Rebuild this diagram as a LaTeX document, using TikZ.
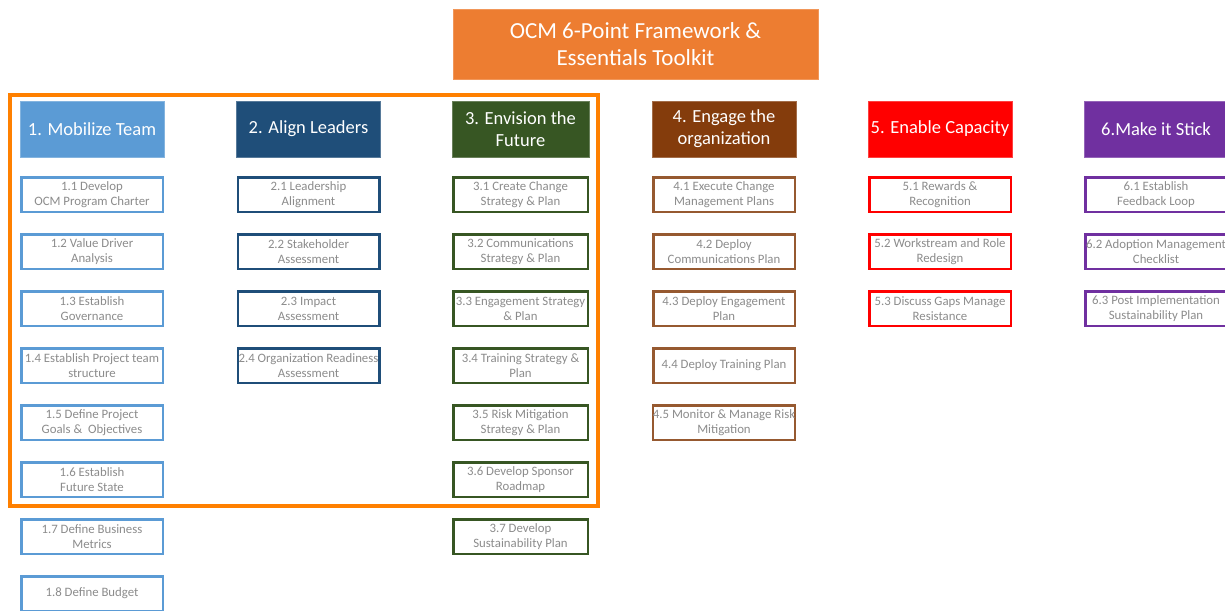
\documentclass[tikz,border=0pt]{standalone}
\usepackage{fontspec}
\setmainfont{Carlito}
\definecolor{titlecolor}{HTML}{ED7D31}
\definecolor{framecolor}{HTML}{FF8000}
\definecolor{mobilizecolor}{HTML}{5B9BD5}
\definecolor{aligncolor}{HTML}{1F4E79}
\definecolor{envisioncolor}{HTML}{375623}
\definecolor{engagecolor}{HTML}{843C0C}
\definecolor{enablecolor}{HTML}{FF0000}
\definecolor{stickcolor}{HTML}{7030A0}
\definecolor{tasktext}{HTML}{8C8C8C}

\begin{document}
\begin{tikzpicture}[x=1pt, y=-1pt,
    phase/.style={draw=#1!75!white, line width=0.6pt, fill=#1, text=white, minimum width=144pt, minimum height=56pt, inner sep=0pt, align=center, font=\fontsize{18.5}{22}\selectfont},
    task/.style={draw=#1, line width=2.5pt, fill=white, text=tasktext, minimum width=141.5pt, minimum height=34.5pt, inner sep=0pt, align=center, font=\fontsize{12.8}{15}\selectfont}]
    \path[use as bounding box] (0,0) rectangle (1225,610);
    \clip (0,0) rectangle (1225,610);

    % title
    \node[fill=titlecolor, draw=titlecolor!80!white, text=white, minimum width=365pt, minimum height=70pt, inner sep=0pt, align=center, font=\fontsize{23}{27}\selectfont] (title) at (635.5,44) {OCM 6-Point Framework \&\\Essentials Toolkit};

    % phase headers
    \node[phase=mobilizecolor] (h1) at (92,129) {1. Mobilize Team};
    \node[phase=aligncolor] (h2) at (308.5,129) {2. Align Leaders};
    \node[phase=envisioncolor, minimum width=137pt] (h3) at (520.5,129) {3. Envision the\\Future};
    \node[phase=engagecolor] (h4) at (724,129) {4. Engage the\\organization};
    \node[phase=enablecolor] (h5) at (940,129) {5. Enable Capacity};
    \node[phase=stickcolor] (h6) at (1156,129) {6.Make it Stick};

    % tasks
    \foreach \t [count=\k] in {{1.1 Develop\\OCM Program Charter}, {1.2 Value Driver\\Analysis}, {1.3 Establish\\Governance}, {1.4 Establish Project team\\structure}, {1.5 Define Project\\Goals \&\ \ Objectives}, {1.6 Establish\\Future State}, {1.7 Define Business\\Metrics}, {1.8 Define Budget}}
        \node[task=mobilizecolor] (t1-\k) at (92,{194.5+57*(\k-1)}) {\t};
    \foreach \t [count=\k] in {{2.1 Leadership\\Alignment}, {2.2 Stakeholder\\Assessment}, {2.3 Impact\\Assessment}, {2.4 Organization Readiness\\Assessment}}
        \node[task=aligncolor] (t2-\k) at (308.5,{194.5+57*(\k-1)}) {\t};
    \foreach \t [count=\k] in {{3.1 Create Change\\Strategy \& Plan}, {3.2 Communications\\Strategy \& Plan}, {3.3 Engagement Strategy\\\& Plan}, {3.4 Training Strategy \&\\Plan}, {3.5 Risk Mitigation\\Strategy \& Plan}, {3.6 Develop Sponsor\\Roadmap}, {3.7 Develop\\Sustainability Plan}}
        \node[task=envisioncolor, minimum width=134.5pt] (t3-\k) at (520.5,{194.5+57*(\k-1)}) {\t};
    \foreach \t [count=\k] in {{4.1 Execute Change\\Management Plans}, {4.2 Deploy\\Communications Plan}, {4.3 Deploy Engagement\\Plan}, {4.4 Deploy Training Plan}, {4.5 Monitor \& Manage Risk\\Mitigation}}
        \node[task=engagecolor!85!white] (t4-\k) at (724,{194.5+57*(\k-1)}) {\t};
    \foreach \t [count=\k] in {{5.1 Rewards \&\\Recognition}, {5.2 Workstream and Role\\Redesign}, {5.3 Discuss Gaps Manage\\Resistance}}
        \node[task=enablecolor] (t5-\k) at (940,{194.5+57*(\k-1)}) {\t};
    \foreach \t [count=\k] in {{6.1 Establish\\Feedback Loop}, {6.2 Adoption Management\\Checklist}, {6.3 Post Implementation\\Sustainability Plan}}
        \node[task=stickcolor] (t6-\k) at (1156,{194.5+57*(\k-1)}) {\t};

    % frame round the first three phases
    \draw[framecolor, line width=4pt] (10,95) rectangle (598,506);
\end{tikzpicture}
\end{document}
